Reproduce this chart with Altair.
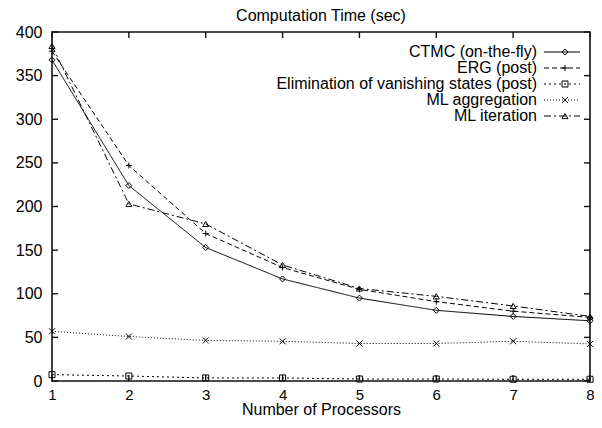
import altair as alt
import pandas as pd

processors = [1, 2, 3, 4, 5, 6, 7, 8]
series_names = [
    "CTMC (on-the-fly)",
    "ERG (post)",
    "Elimination of vanishing states (post)",
    "ML aggregation",
    "ML iteration",
]
ctmc = [368, 224, 153, 117, 95, 81, 74, 69]
erg = [378, 247, 169, 130, 105, 91, 80, 73]
elim = [7.3, 5.7, 3.5, 3.5, 2.3, 2.3, 2.0, 2.0]
ml_agg = [57, 51, 46.5, 45.5, 43, 43, 45.5, 42.5]
ml_iter = [384, 203, 180, 133, 106, 97, 86, 74]
y_ticks = [0, 50, 100, 150, 200, 250, 300, 350, 400]

values = [ctmc, erg, elim, ml_agg, ml_iter]
rows = []
for name, vals in zip(series_names, values):
    for p, v in zip(processors, vals):
        rows.append({"processors": p, "time": v, "series": name, "series2": name + " "})
df = pd.DataFrame(rows)
xt = pd.DataFrame({"processors": processors})
yt = pd.DataFrame({"time": y_ticks})

W, H = 538, 349
FONT = "Liberation Sans"
TICK = 6
INK = "#111111"

dashes = [[1, 0], [5, 3], [2, 3], [1, 2], [7, 3, 2, 3]]
shapes = [
    "diamond",
    "M-1,0H1M0,-1V1",
    "square",
    "M-1,-1L1,1M-1,1L1,-1",
    "triangle-up",
]

xscale = alt.Scale(domain=[1, 8], nice=False)
yscale = alt.Scale(domain=[0, 400], nice=False)

x_main = alt.X("processors:Q", scale=xscale, axis=alt.Axis(
    orient="bottom", values=processors, format="d", ticks=False, domain=False,
    grid=False, labelFlush=False,
    labelFont=FONT, labelFontSize=15, labelColor="black", labelPadding=6,
    title="Number of Processors", titleFont=FONT, titleFontSize=16,
    titleFontWeight="normal", titleColor="black",
    titleBaseline="alphabetic", titleY=33))
y_main = alt.Y("time:Q", scale=yscale, axis=alt.Axis(
    orient="left", values=y_ticks, format="d", ticks=False, domain=False,
    grid=False, labelFlush=False,
    labelFont=FONT, labelFontSize=16, labelColor="black", labelPadding=10,
    title=None))

LX, LY = 469, 12

legend_lines = alt.Legend(
    orient="none", legendX=LX, legendY=LY, title=None, padding=0,
    symbolType="M2.5,0H8.5", symbolSize=144, symbolStrokeColor="black",
    symbolStrokeWidth=1, labelAlign="right", labelOffset=0,
    labelFont=FONT, labelFontSize=16, labelColor="black", rowPadding=0,
    labelLimit=400,
)
legend_marks = alt.Legend(
    orient="none", legendX=LX + 36, legendY=LY, title=None, padding=0,
    symbolSize=36, symbolStrokeColor="black", symbolStrokeWidth=1,
    symbolFillColor="white",
    labelAlign="right", labelOffset=0, labelOpacity=0,
    labelFont=FONT, labelFontSize=16, rowPadding=0, labelLimit=400,
)

base = alt.Chart(df)

lines = base.mark_line(color="black", strokeWidth=1).encode(
    x=x_main, y=y_main,
    strokeDash=alt.StrokeDash("series:N", scale=alt.Scale(domain=series_names, range=dashes),
                              legend=legend_lines),
)

points = base.mark_point(
    filled=False, color="black", size=36, strokeWidth=1, opacity=1
).encode(
    x=alt.X("processors:Q", scale=xscale),
    y=alt.Y("time:Q", scale=yscale),
    shape=alt.Shape("series2:N",
                    scale=alt.Scale(domain=[n + " " for n in series_names], range=shapes),
                    legend=legend_marks),
)

tx = alt.X("processors:Q", scale=xscale)
ty = alt.Y("time:Q", scale=yscale)
rule = dict(color=INK, strokeWidth=1.4)
ticks_bottom = alt.Chart(xt).mark_rule(**rule).encode(
    x=tx, y=alt.value(H), y2=alt.value(H - TICK))
ticks_top = alt.Chart(xt).mark_rule(**rule).encode(
    x=tx, y=alt.value(0), y2=alt.value(TICK))
ticks_left = alt.Chart(yt).mark_rule(**rule).encode(
    y=ty, x=alt.value(0), x2=alt.value(TICK))
ticks_right = alt.Chart(yt).mark_rule(**rule).encode(
    y=ty, x=alt.value(W), x2=alt.value(W - TICK))

frame = alt.Chart(pd.DataFrame({"k": [0]})).mark_rect(
    fill=None, stroke=INK, strokeWidth=1.6
).encode(x=alt.value(0), x2=alt.value(W), y=alt.value(0), y2=alt.value(H))

chart = alt.layer(lines, points, ticks_bottom, ticks_top, ticks_left, ticks_right, frame).properties(
    width=W, height=H,
    title=alt.TitleParams("Computation Time (sec)", font=FONT, fontSize=16,
                          fontWeight="normal", color="black", offset=0),
    autosize=alt.AutoSizeParams(type="none"),
    padding={"left": 44, "top": 24, "right": 4, "bottom": 34},
    background="white",
).configure_view(stroke=None)

chart.save("out.html", embed_options={"renderer": "svg", "actions": False})
